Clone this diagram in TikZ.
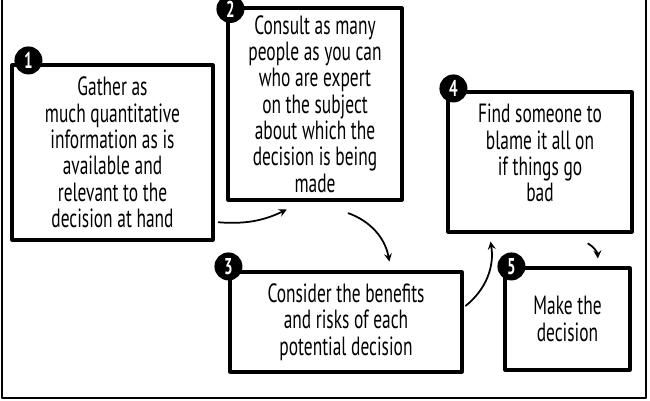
\documentclass[tikz,border=0pt]{standalone}
\usepackage{fontspec}
\setmainfont{PT Sans}[FakeStretch=0.66]
\usetikzlibrary{positioning}
\tikzset{
    every picture/.style={x=0.02cm,y=-0.02cm,>=stealth,line cap=round,line join=round},
    stage/.style={draw,line width=1.8pt,inner sep=2pt,align=center,
        font=\fontsize{15}{15}\selectfont},
    num/.style={circle,fill=black,text=white,inner sep=0pt,minimum size=0.56cm,
        font=\bfseries\fontsize{13}{13}\selectfont},
    flow/.style={->,line width=1pt,shorten >=2pt,shorten <=2pt}
}
\begin{document}
\begin{tikzpicture}
    \useasboundingbox (0,0) rectangle (650,400);
    \draw[line width=1pt] (2,0) -- (2,398) -- (646,398) -- (646,0);
    % boxes
    \node[stage,minimum width=4.02cm,minimum height=3.5cm] (s1) at (112.5,152.5)
        {Gather as\\much quantitative\\information as is\\available and\\relevant to the\\decision at hand};
    \node[stage,minimum width=3.48cm,minimum height=3.84cm] (s2) at (315,104)
        {Consult as many\\people as you can\\who are expert\\on the subject\\about which the\\decision is being\\made};
    \node[stage,minimum width=4.64cm,minimum height=2cm] (s3) at (346,322)
        {Consider the benefits\\and risks of each\\potential decision};
    \node[stage,minimum width=3.68cm,minimum height=2.8cm] (s4) at (540,162) {};
    \node[align=center,font=\fontsize{15}{15}\selectfont,below=0.15cm of s4.north] (t4)
        {Find someone to\\blame it all on\\if things go\\bad};
    \node[stage,minimum width=2.5cm,minimum height=2.04cm] (s5) at (567.5,319)
        {Make the\\decision};
    % numbers
    \node[num] (n1) at (s1.north west) [xshift=0.36cm,yshift=0.06cm] {1};
    \node[num] (n2) at (s2.north west) [xshift=0.08cm,yshift=-0.05cm] {2};
    \node[num] (n3) at (s3.north west) [yshift=0.08cm] {3};
    \node[num] (n4) at (s4.north west) [xshift=0.14cm,yshift=0.04cm] {4};
    \node[num] (n5) at (s5.north west) [xshift=0.16cm] {5};
    % arrows
    \coordinate (a1) at (215,222); \coordinate (b1) at (290,208);
    \coordinate (a2) at (345,212); \coordinate (b2) at (390,265);
    \coordinate (a3) at (463,308); \coordinate (b3) at (490,238);
    \coordinate (a4) at (585,242); \coordinate (b4) at (598,262);
    \draw[flow] (a1) to[bend right=15] (b1);
    \draw[flow] (a2) to[bend left=30] (b2);
    \draw[flow] (a3) to[bend right=30] (b3);
    \draw[flow] (a4) to[bend left=30] (b4);
\end{tikzpicture}
\end{document}
